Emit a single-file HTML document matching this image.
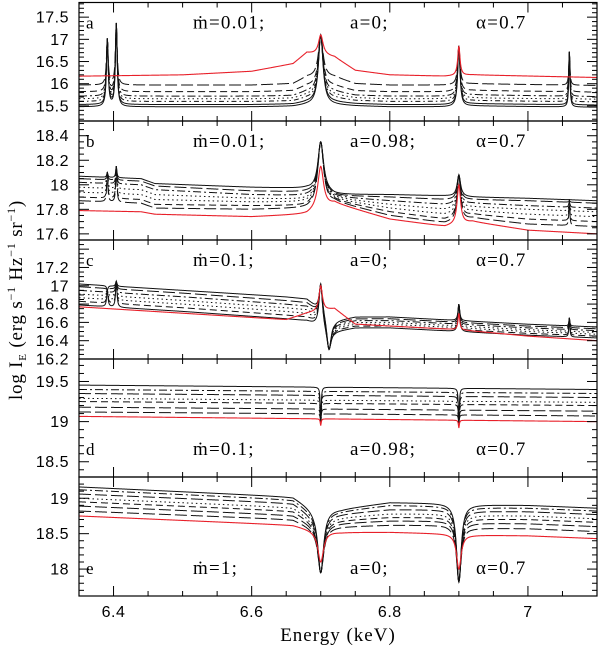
<!DOCTYPE html>
<html><head><meta charset="utf-8"><style>
html,body{margin:0;padding:0;background:#fff;}
svg{display:block;}
text{font-family:"Liberation Sans",sans-serif;fill:#000;}
.ser{font-family:"Liberation Serif",serif;}
</style></head><body>
<svg id="chart" width="600" height="647" viewBox="0 0 600 647" xmlns="http://www.w3.org/2000/svg"></svg>
<script>
// ---- x axis data ----
const xTickLabels=[6.4,6.6,6.8,7];
// ---- panel a ----
const aKnots=[6.35,6.5,6.6,6.66,6.68,6.72,6.75,6.8,6.88,6.92,7.1];
const aC1=[15.97,15.97,15.97,16.0,16.15,16.15,16.0,15.97,15.97,16.0,15.96];
const aC2=[15.82,15.82,15.82,15.84,15.95,15.95,15.84,15.82,15.82,15.85,15.81];
const aC3=[15.72,15.72,15.72,15.73,15.82,15.82,15.74,15.72,15.72,15.75,15.71];
const aC4=[15.66,15.66,15.66,15.67,15.74,15.74,15.68,15.66,15.66,15.68,15.65];
const aC5=[15.60,15.60,15.60,15.61,15.67,15.67,15.62,15.60,15.60,15.62,15.59];
const aC6=[15.53,15.53,15.53,15.54,15.58,15.58,15.55,15.53,15.53,15.55,15.52];
const aC7=[15.48,15.48,15.48,15.49,15.52,15.52,15.50,15.48,15.48,15.50,15.47];
const aRed=[16.17,16.2,16.28,16.45,16.7,16.6,16.3,16.2,16.17,16.2,16.14];
const aLineE=[6.391,6.404,6.7,6.9,7.06];
const aLinePeak=[17.0,17.35,17.1,16.85,16.72];
const aLineRedPeak=[null,null,17.1,16.85,null];
const aLineW=[0.0015,0.0015,0.004,0.002,0.001];
// ---- panel b ----
const bKnots=[6.35,6.44,6.46,6.6,6.68,6.72,6.8,6.88,6.92,7.0,7.1];
const bC1=[18.07,18.05,18.01,17.98,17.97,17.92,17.92,17.91,17.90,17.89,17.87];
const bC2=[18.05,18.03,17.99,17.95,17.94,17.91,17.90,17.88,17.88,17.87,17.85];
const bC3=[18.02,18.00,17.96,17.92,17.91,17.90,17.87,17.84,17.85,17.83,17.81];
const bC4=[17.98,17.96,17.92,17.89,17.88,17.89,17.84,17.80,17.82,17.80,17.78];
const bC5=[17.94,17.92,17.88,17.86,17.86,17.88,17.81,17.76,17.79,17.76,17.74];
const bC6=[17.90,17.88,17.84,17.83,17.83,17.87,17.78,17.72,17.76,17.72,17.70];
const bC7=[17.87,17.85,17.81,17.80,17.81,17.86,17.75,17.69,17.73,17.68,17.66];
const bRed=[17.79,17.78,17.76,17.74,17.76,17.85,17.72,17.66,17.70,17.63,17.60];
const bLineE=[6.391,6.404,6.7,6.9,7.06];
const bLinePeak=[18.1,18.15,18.35,18.08,17.88];
const bLineRedPeak=[null,null,18.15,18.0,null];
const bLineW=[0.001,0.001,0.005,0.003,0.0008];
// ---- panel c ----
const cKnots=[6.35,6.5,6.65,6.68,6.72,6.75,6.8,6.9,7.0,7.1];
const cC1=[17.02,16.95,16.88,16.86,16.62,16.66,16.66,16.62,16.58,16.55];
const cC2=[16.99,16.92,16.84,16.82,16.60,16.64,16.64,16.60,16.56,16.53];
const cC3=[16.95,16.88,16.80,16.78,16.58,16.62,16.62,16.58,16.54,16.51];
const cC4=[16.91,16.84,16.76,16.74,16.56,16.60,16.60,16.56,16.52,16.49];
const cC5=[16.87,16.80,16.72,16.70,16.54,16.58,16.58,16.54,16.50,16.47];
const cC6=[16.83,16.76,16.68,16.66,16.52,16.56,16.56,16.52,16.48,16.45];
const cC7=[16.79,16.72,16.64,16.62,16.50,16.54,16.54,16.50,16.46,16.43];
const cRed=[16.77,16.70,16.63,16.70,16.75,16.58,16.56,16.52,16.45,16.40];
const cLineE=[6.391,6.404,6.7,6.712,6.9,7.06];
const cLinePeak=[16.95,17.05,17.05,16.28,16.8,16.65];
const cLineRedPeak=[null,null,17.0,null,16.7,null];
const cLineW=[0.0012,0.0012,0.003,0.004,0.0015,0.0008];
// ---- panel d ----
const dKnots=[6.35,7.1];
const dC1=[19.455,19.40];
const dC2=[19.40,19.35];
const dC3=[19.35,19.30];
const dC4=[19.29,19.24];
const dC5=[19.25,19.20];
const dC6=[19.18,19.13];
const dC7=[19.12,19.07];
const dRed=[19.065,19.0];
const dLineE=[6.7,6.9];
const dLinePeak=[19.0,18.98];
const dLineRedPeak=[18.95,18.92];
const dLineW=[0.0008,0.0008];
// ---- panel e ----
const eKnots=[6.35,6.66,6.69,6.73,6.8,6.88,6.92,7.0,7.1];
const eC1=[19.16,19.02,18.85,18.85,18.94,18.93,18.91,18.90,18.86];
const eC2=[19.12,18.98,18.80,18.82,18.90,18.89,18.87,18.86,18.82];
const eC3=[19.06,18.93,18.75,18.78,18.84,18.84,18.82,18.81,18.77];
const eC4=[19.00,18.87,18.70,18.73,18.78,18.78,18.76,18.75,18.71];
const eC5=[18.95,18.82,18.66,18.69,18.73,18.73,18.71,18.70,18.66];
const eC6=[18.89,18.76,18.62,18.65,18.68,18.68,18.65,18.64,18.60];
const eC7=[18.82,18.70,18.58,18.60,18.62,18.62,18.58,18.57,18.53];
const eRed=[18.75,18.62,18.55,18.52,18.52,18.50,18.48,18.47,18.43];
const eLineE=[6.7,6.9];
const eLinePeak=[17.95,17.82];
const eLineRedPeak=[18.1,18.0];
const eLineW=[0.005,0.004];

const NS="http://www.w3.org/2000/svg";
const svg=document.getElementById('chart');
const L=79,R=597,X0=6.35,X1=7.1;
function xs(e){return L+(e-X0)/(X1-X0)*(R-L);}
function mk(tag,attrs,parent){const el=document.createElementNS(NS,tag);for(const k in attrs)el.setAttribute(k,attrs[k]);(parent||svg).appendChild(el);return el;}

const panels=[
 {id:'a',top:2.5,bot:121,y0:15.16,y1:17.83,maj:0.5,min:0.1,labs:[15.5,16,16.5,17,17.5],knots:aKnots,curves:[aC1,aC2,aC3,aC4,aC5,aC6,aC7],red:aRed,lE:aLineE,lP:aLinePeak,lR:aLineRedPeak,lW:aLineW,
  styles:['12 4','7 4','8 3 2 3','1.5 3','5 3 1.5 3','',''],txt:['ṁ=0.01;','a=0;','α=0.7'],txtTop:true},
 {id:'b',top:121,bot:240,y0:17.55,y1:18.52,maj:0.2,min:0.05,labs:[17.6,17.8,18,18.2,18.4],knots:bKnots,curves:[bC1,bC2,bC3,bC4,bC5,bC6,bC7],red:bRed,lE:bLineE,lP:bLinePeak,lR:bLineRedPeak,lW:bLineW,
  styles:['','12 4','8 3 2 3','1.5 3','1.5 3','7 4','12 4'],txt:['ṁ=0.01;','a=0.98;','α=0.7'],txtTop:true},
 {id:'c',top:240,bot:359,y0:16.2,y1:17.5,maj:0.2,min:0.05,labs:[16.2,16.4,16.6,16.8,17,17.2],knots:cKnots,curves:[cC1,cC2,cC3,cC4,cC5,cC6,cC7],red:cRed,lE:cLineE,lP:cLinePeak,lR:cLineRedPeak,lW:cLineW,
  styles:['','12 4','8 3 2 3','1.5 3','1.5 3','7 4',''],txt:['ṁ=0.1;','a=0;','α=0.7'],txtTop:true},
 {id:'d',top:359,bot:477,y0:18.31,y1:19.78,maj:0.5,min:0.1,labs:[18.5,19,19.5],knots:dKnots,curves:[dC1,dC2,dC3,dC4,dC5,dC6,dC7],red:dRed,lE:dLineE,lP:dLinePeak,lR:dLineRedPeak,lW:dLineW,
  styles:['','8 3 2 3','12 4','1.5 3','7 4','12 4','12 4'],txt:['ṁ=0.1;','a=0.98;','α=0.7'],txtTop:false},
 {id:'e',top:477,bot:596,y0:17.62,y1:19.30,maj:0.5,min:0.1,labs:[18,18.5,19],knots:eKnots,curves:[eC1,eC2,eC3,eC4,eC5,eC6,eC7],red:eRed,lE:eLineE,lP:eLinePeak,lR:eLineRedPeak,lW:eLineW,
  styles:['','8 3 2 3','12 4','1.5 3','7 4','12 4','12 4'],txt:['ṁ=1;','a=0;','α=0.7'],txtTop:false}
];

function interp(knots,vals,e){
  if(e<=knots[0])return vals[0];
  for(let i=1;i<knots.length;i++){if(e<=knots[i]){const t=(e-knots[i-1])/(knots[i]-knots[i-1]);return vals[i-1]+t*(vals[i]-vals[i-1]);}}
  return vals[vals.length-1];
}
const defs=mk('defs',{});
panels.forEach(p=>{
  const ys=v=>p.bot-(v-p.y0)/(p.y1-p.y0)*(p.bot-p.top);
  const g=mk('g',{});
  
  
  const cp=mk('clipPath',{id:'clip-'+p.id},defs);
  mk('rect',{x:L,y:p.top,width:R-L,height:p.bot-p.top},cp);
  const cg=mk('g',{'clip-path':'url(#clip-'+p.id+')'},g);
  function buildPath(vals,isRed){
    let d='';
    for(let k=0;k<=1500;k++){
      const e=X0+k*0.0005;
      const c=interp(p.knots,vals,e);
      let v=c;
      for(let j=0;j<p.lE.length;j++){
        const pk=isRed?p.lR[j]:p.lP[j];
        if(pk===null)continue;
        const w=p.lW[j],dd=e-p.lE[j];
        v+=(pk-c)*w*w/(w*w+dd*dd);
      }
      d+=(k?'L':'M')+xs(e).toFixed(2)+' '+ys(v).toFixed(2);
    }
    return d;
  }
  p.curves.forEach((vals,i)=>{
    const path=mk('path',{d:buildPath(vals,false),fill:'none',stroke:'#111','stroke-width':'1','stroke-dasharray':p.styles[i]||'none'},cg);
    
    
  });
  const rp=mk('path',{d:buildPath(p.red,true),fill:'none',stroke:'#e8202a','stroke-width':'1.1'},cg);
  
  
  const fr=mk('rect',{x:L,y:p.top,width:R-L,height:p.bot-p.top,fill:'none',stroke:'#000','stroke-width':'1.2'},g);
  
  
  for(let e=6.35;e<=7.1001;e+=0.05){
    const x=xs(e);const major=Math.abs(Math.round(e*5)-e*5)<1e-6;const len=major?10:5;
    mk('line',{x1:x,x2:x,y1:p.top,y2:p.top+len,stroke:'#000','stroke-width':'1'},g);
    mk('line',{x1:x,x2:x,y1:p.bot,y2:p.bot-len,stroke:'#000','stroke-width':'1'},g);
  }
  const start=Math.ceil(p.y0/p.min-1e-6)*p.min;
  for(let v=start;v<=p.y1+1e-6;v+=p.min){
    const y=ys(v);const r=v/p.maj;const major=Math.abs(r-Math.round(r))<1e-6;const len=major?10:5;
    mk('line',{x1:L,x2:L+len,y1:y,y2:y,stroke:'#000','stroke-width':'1'},g);
    mk('line',{x1:R,x2:R-len,y1:y,y2:y,stroke:'#000','stroke-width':'1'},g);
  }
  p.labs.forEach(v=>{
    const t=mk('text',{x:L-10,y:ys(v)+5.5,'text-anchor':'end','font-size':'16','letter-spacing':'0.5'},g);
    t.textContent=String(v);
    
    
  });
  const ty=p.txtTop?p.top+26:p.bot-22;
  const pl=mk('text',{x:86,y:ty,'font-size':'17',class:'ser'},g);
  pl.textContent=p.id;
  
  
  const tx=[193,350,476];
  p.txt.forEach((s,i)=>{
    const t=mk('text',{x:tx[i],y:ty,'font-size':'19','letter-spacing':'1.2',class:'ser'},g);
    t.textContent=s;
    
    
  });
});
xTickLabels.forEach(e=>{
  const t=mk('text',{x:xs(e),y:617,'text-anchor':'middle','font-size':'16','letter-spacing':'0.5'});
  t.textContent=String(e);
  
  
});
const xt=mk('text',{x:xs(6.725),y:641,'text-anchor':'middle','font-size':'19','letter-spacing':'1',class:'ser'});
xt.textContent='Energy (keV)';


const yt=mk('text',{x:0,y:0,'text-anchor':'middle','font-size':'19','letter-spacing':'0.8',class:'ser',transform:'translate(22,300) rotate(-90)'});
yt.innerHTML='log I<tspan font-size="11" dy="4">E</tspan><tspan dy="-4"> (erg s</tspan><tspan font-size="12" dy="-7">−1</tspan><tspan dy="7"> Hz</tspan><tspan font-size="12" dy="-7">−1</tspan><tspan dy="7"> sr</tspan><tspan font-size="12" dy="-7">−1</tspan><tspan dy="7">)</tspan>';


</script>
</body></html>
